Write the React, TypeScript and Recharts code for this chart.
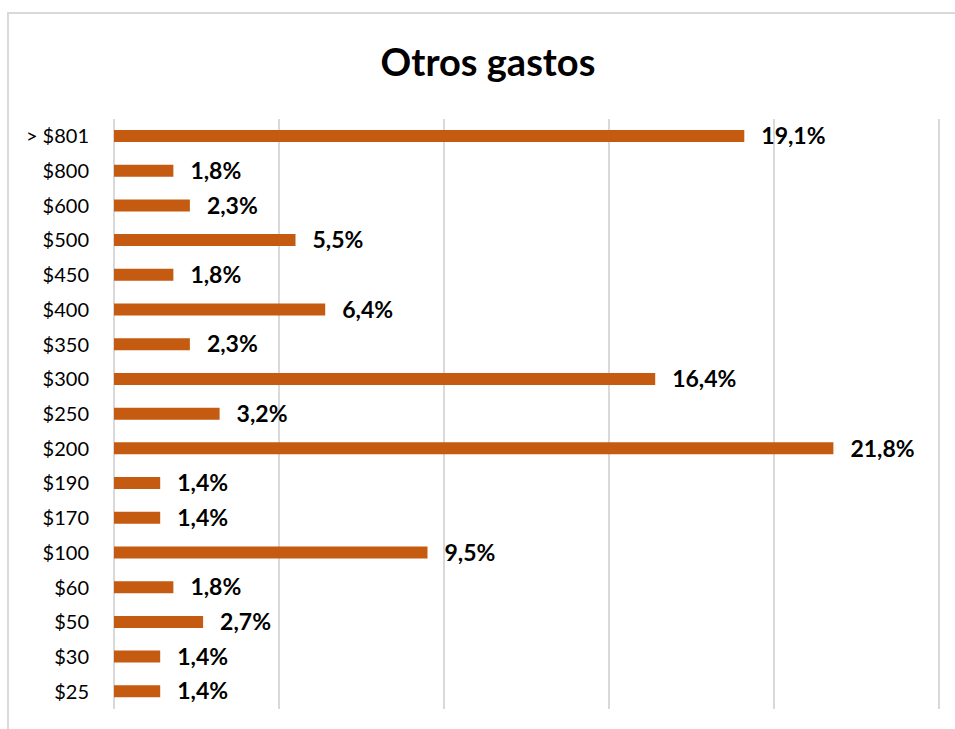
import { BarChart, Bar, XAxis, YAxis, CartesianGrid, LabelList } from "recharts";

const categories = [
  "> $801", "$800", "$600", "$500", "$450", "$400", "$350", "$300", "$250",
  "$200", "$190", "$170", "$100", "$60", "$50", "$30", "$25",
];
const shares = [19.1, 1.8, 2.3, 5.5, 1.8, 6.4, 2.3, 16.4, 3.2, 21.8, 1.4, 1.4, 9.5, 1.8, 2.7, 1.4, 1.4];
const xTicks = [0, 5, 10, 15, 20, 25];

const data = categories.map((name, i) => ({ name, value: shares[i] }));

const FONT = "Lato, 'Open Sans', sans-serif";

function CategoryTick({ x, y, payload }: { x?: number; y?: number; payload?: { value: string } }) {
  if (x == null || y == null || !payload) return null;
  return (
    <text x={x - 17} y={y} dy={7} textAnchor="end" fontSize={20} fill="#000" fontFamily={FONT}>
      {payload.value}
    </text>
  );
}

export default function App() {
  return (
    <div style={{ position: "absolute", left: 0, top: 0, width: 955, height: 729, background: "#fff", fontFamily: FONT }}>
      {/* chart frame (only top and left edges visible) */}
      <div
        style={{
          position: "absolute",
          left: 7,
          top: 12,
          width: 960,
          height: 730,
          borderTop: "2px solid #d9d9d9",
          borderLeft: "2px solid #d9d9d9",
        }}
      />
      <div
        style={{
          position: "absolute",
          left: 0,
          top: 36,
          width: 976,
          textAlign: "center",
          fontSize: 38,
          fontWeight: 700,
          lineHeight: "50px",
          color: "#000",
        }}
      >
        Otros gastos
      </div>
      <div style={{ position: "absolute", left: 0, top: 0 }}>
        <BarChart
          width={955}
          height={729}
          data={data}
          layout="vertical"
          margin={{ top: 119, right: 16, bottom: 19, left: 0 }}
        >
          <CartesianGrid horizontal={false} stroke="#d9d9d9" strokeWidth={2} />
          <XAxis
            type="number"
            domain={[0, 25]}
            ticks={xTicks}
            axisLine={false}
            tickLine={false}
            tick={{ fill: "transparent", fontSize: 1 }}
            height={1}
          />
          <YAxis
            type="category"
            dataKey="name"
            width={114}
            axisLine={false}
            tickLine={false}
            tick={<CategoryTick />}
            interval={0}
          />
          <Bar dataKey="value" fill="#C55A11" barSize={12} isAnimationActive={false}>
            <LabelList
              dataKey="value"
              position="right"
              offset={17}
              formatter={(v: number) => v.toFixed(1).replace(".", ",") + "%"}
              style={{ fontSize: 23, fontWeight: 700, fill: "#000", fontFamily: FONT }}
            />
          </Bar>
        </BarChart>
      </div>
    </div>
  );
}
